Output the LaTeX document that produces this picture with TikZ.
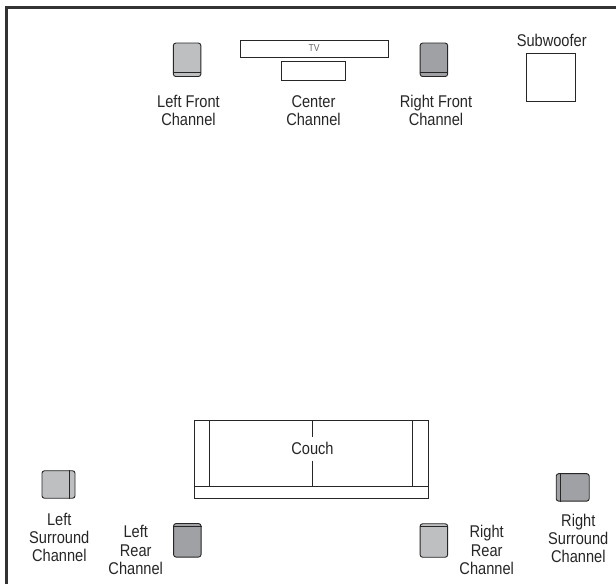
\documentclass[tikz,border=0pt]{standalone}
\usepackage{fontspec}
\setmainfont[FakeStretch=0.86]{Liberation Sans}
\usepackage{tikz}
\usetikzlibrary{positioning}
\definecolor{framegray}{HTML}{333333}
\definecolor{lightspk}{HTML}{BEBFC1}
\definecolor{darkspk}{HTML}{A0A1A4}
\tikzset{
  outline/.style={draw=black!85,line width=0.9pt,fill=white,inner sep=0pt},
  speaker/.style={draw=black!85,line width=0.9pt,rounded corners=2.5pt,inner sep=0pt,minimum width=27.5pt,minimum height=33.5pt},
  speakerwide/.style={speaker,minimum width=33pt,minimum height=27.5pt},
  chan/.style={align=center,font=\fontsize{17}{18.4}\selectfont,text=black!85,inner sep=0pt},
  seam/.style={draw=black!85,line width=1pt}
}
\begin{document}
\begin{tikzpicture}[x=1pt,y=1pt]
\useasboundingbox (0,0) rectangle (616,584);
% room
\coordinate (roomtl) at (6.5,576.5);
\coordinate (roomtr) at (616,576.5);
\coordinate (roombl) at (6.5,0);
\draw[framegray,line width=2.4pt] (roombl)--(roomtl)--(roomtr);
% front
\node[outline,minimum width=147.5pt,minimum height=17pt] (tv) at (314.2,535.5){};
\node[font=\fontsize{10}{10}\selectfont,text=black!60,inner sep=0pt] (tvtext) at (tv.center){TV};
\node[outline,minimum width=64.5pt,minimum height=18.5pt] (center) at (313.3,513){};
\node[speaker,fill=lightspk] (lfront) at (187.1,524.2){};
\node[speaker,fill=darkspk] (rfront) at (433.9,524.2){};
\draw[seam] ([yshift=4pt]lfront.south west)--([yshift=4pt]lfront.south east);
\draw[seam] ([yshift=4pt]rfront.south west)--([yshift=4pt]rfront.south east);
\node[chan] (lfronttext) at (188.5,473.3){Left Front\\Channel};
\node[chan] (centertext) at (313.5,473.3){Center\\Channel};
\node[chan] (rfronttext) at (436,473.3){Right Front\\Channel};
\node[outline,minimum width=48.5pt,minimum height=48.5pt] (sub) at (551,506.5){};
\node[chan] (subtext) at (551.7,543.3){Subwoofer};
% couch
\node[outline,minimum width=234pt,minimum height=78.3pt] (couch) at (311,124.2){};
\coordinate (seatl) at (194,97.5);
\coordinate (seatr) at (428,97.5);
\draw[seam] (seatl)--(seatr);
\draw[seam] (209.5,163.3)--(209.5,97.5);
\draw[seam] (412.5,163.3)--(412.5,97.5);
\node[chan,inner ysep=5.5pt] (couchtext) at (312.5,135.3){Couch};
\draw[seam] (couchtext.north|-couch.north)--(couchtext.north);
\draw[seam] (couchtext.south)--(couchtext.south|-seatl);
% surround and rear
\node[speakerwide,fill=lightspk] (lsur) at (58.5,99.5){};
\node[speakerwide,fill=darkspk] (rsur) at (572.7,96.6){};
\draw[seam] ([xshift=-5.5pt]lsur.north east)--([xshift=-5.5pt]lsur.south east);
\draw[seam] ([xshift=4.5pt]rsur.north west)--([xshift=4.5pt]rsur.south west);
\node[speaker,fill=darkspk] (lrear) at (187.3,43.7){};
\node[speaker,fill=lightspk] (rrear) at (433.9,43.5){};
\draw[seam] ([yshift=-3.7pt]lrear.north west)--([yshift=-3.7pt]lrear.north east);
\draw[seam] ([yshift=-3.7pt]rrear.north west)--([yshift=-3.7pt]rrear.north east);
\node[chan] (lsurtext) at (59.3,46.5){Left\\Surround\\Channel};
\node[chan] (lreartext) at (135.7,34){Left\\Rear\\Channel};
\node[chan] (rreartext) at (486.7,34){Right\\Rear\\Channel};
\node[chan] (rsurtext) at (578.3,45.5){Right\\Surround\\Channel};
\end{tikzpicture}
\end{document}
